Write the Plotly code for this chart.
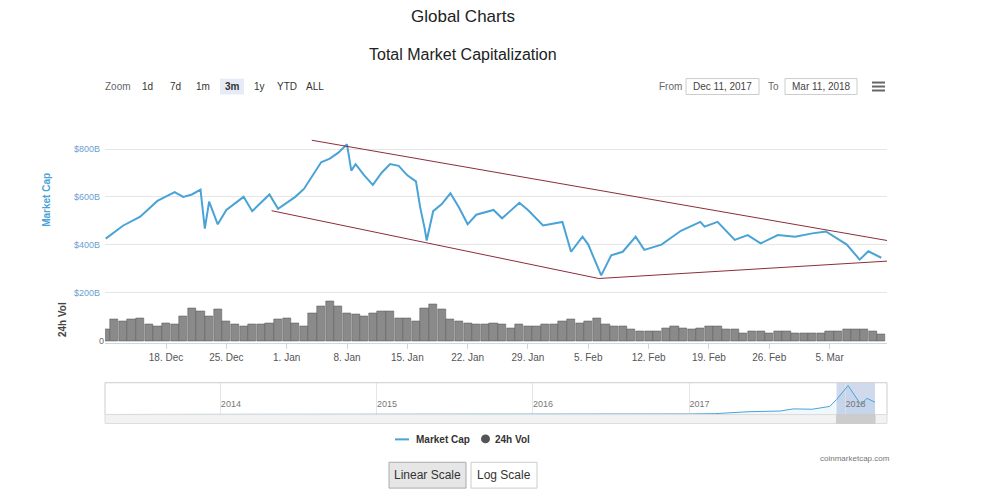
import plotly.graph_objects as go
import pandas as pd

# ---- data ----
cap_dates = ["2017-12-11","2017-12-13","2017-12-15","2017-12-17","2017-12-19","2017-12-20","2017-12-21",
 "2017-12-22","2017-12-22 12:00","2017-12-23","2017-12-24","2017-12-25","2017-12-27","2017-12-28","2017-12-30",
 "2017-12-31","2018-01-02","2018-01-03","2018-01-05","2018-01-06","2018-01-07","2018-01-08","2018-01-08 12:00",
 "2018-01-09","2018-01-10","2018-01-11","2018-01-12","2018-01-13","2018-01-14","2018-01-15","2018-01-16",
 "2018-01-16 12:00","2018-01-17","2018-01-17 06:00","2018-01-18","2018-01-19","2018-01-20","2018-01-21","2018-01-22",
 "2018-01-23","2018-01-25","2018-01-26","2018-01-28","2018-01-29","2018-01-30 18:00","2018-02-02","2018-02-03",
 "2018-02-04 08:00","2018-02-05","2018-02-06 12:00","2018-02-07 16:00","2018-02-09","2018-02-10 12:00",
 "2018-02-11 12:00","2018-02-13 12:00","2018-02-15 18:00","2018-02-18","2018-02-18 12:00","2018-02-20",
 "2018-02-22","2018-02-23 12:00","2018-02-25","2018-02-27","2018-03-01","2018-03-03","2018-03-04 14:00",
 "2018-03-07","2018-03-08 12:00","2018-03-09 12:00","2018-03-11"]
cap_values = [425,479,517,583,620,600,610,630,467,580,485,545,600,540,610,550,600,633,745,760,785,820,710,
 737,690,650,700,737,730,690,665,555,470,417,540,570,615,555,485,525,545,510,575,545,480,495,370,433,400,
 271,355,370,433,378,400,458,495,475,495,420,440,405,440,433,447,455,400,337,372,345]

vol_start = "2017-12-11"
vol_values = [12,22,20,22,23,17,15,18,17,25,33,30,25,32,20,17,15,17,17,18,22,23,18,15,28,35,40,35,28,27,
 25,28,30,30,23,23,20,33,37,32,22,20,18,17,17,18,17,13,17,15,15,17,17,20,22,18,20,23,17,15,15,12,10,10,
 10,13,15,13,12,13,15,15,12,12,8,10,10,8,10,10,8,8,8,8,10,10,12,12,12,10,7]

upper_x = ["2018-01-03 22:00", "2018-03-13 03:00"]
upper_y = [837, 408]
lower_x = ["2017-12-30 06:00", "2018-02-06 05:00", "2018-03-12 17:00"]
lower_y = [542, 258, 333]

nav_dates = ["2013-04-05","2013-10-01","2013-12-01","2014-02-01","2014-06-01","2015-01-15","2015-10-01",
 "2016-06-01","2017-01-01","2017-03-01","2017-05-20","2017-08-01","2017-09-01","2017-10-15","2017-11-25",
 "2017-12-11","2018-01-07","2018-02-06","2018-02-20","2018-03-11"]
nav_values = [1.5,2,12,10,7,4,4,10,17,25,80,100,160,150,230,425,820,280,460,350]

week_ticks = ["2017-12-18","2017-12-25","2018-01-01","2018-01-08","2018-01-15","2018-01-22","2018-01-29",
 "2018-02-05","2018-02-12","2018-02-19","2018-02-26","2018-03-05"]
week_labels = ["18. Dec","25. Dec","1. Jan","8. Jan","15. Jan","22. Jan","29. Jan","5. Feb","12. Feb",
 "19. Feb","26. Feb","5. Mar"]
cap_ticks = [200, 400, 600, 800]
cap_tick_labels = ["$200B", "$400B", "$600B", "$800B"]
zoom_buttons = ["1d", "7d", "1m", "3m", "1y", "YTD", "ALL"]

W, H, OFF = 1000, 499, 8
def px(p):
    return (p - OFF) / W
def py(p):
    return 1 - (p - OFF) / H

vol_dates = [str(d.date()) for d in pd.date_range(vol_start, periods=len(vol_values))]

fig = go.Figure()
fig.add_trace(go.Scatter(x=cap_dates, y=cap_values, mode="lines", line=dict(color="#4aa3d6", width=2),
                         xaxis="x", yaxis="y", hoverinfo="skip"))
fig.add_trace(go.Scatter(x=upper_x, y=upper_y, mode="lines", line=dict(color="#8b2e3a", width=1), xaxis="x", yaxis="y"))
fig.add_trace(go.Scatter(x=lower_x, y=lower_y, mode="lines", line=dict(color="#8b2e3a", width=1), xaxis="x", yaxis="y"))
fig.add_trace(go.Bar(x=vol_dates, y=vol_values, marker=dict(color="#8a8a8a", line=dict(color="#555", width=0.5)),
                     width=86400000*0.95, xaxis="x2", yaxis="y2"))
fig.add_trace(go.Scatter(x=nav_dates, y=nav_values, mode="lines", line=dict(color="#4aa3d6", width=1),
                         fill="tozeroy", fillcolor="rgba(74,163,214,0.08)", xaxis="x3", yaxis="y3"))

xr = ["2017-12-10 22:00", "2018-03-11 16:00"]
dom = [px(105), px(887)]
fig.update_layout(
    width=W, height=H, margin=dict(l=0, r=0, t=0, b=0), showlegend=False,
    plot_bgcolor="white", paper_bgcolor="white", bargap=0,
    font=dict(family="Liberation Sans, Arial", color="#333"),
    xaxis=dict(domain=dom, range=xr, showticklabels=False, showgrid=False, zeroline=False, anchor="y"),
    yaxis=dict(domain=[py(296), py(130)], range=[192, 883], tickvals=cap_ticks, ticktext=cap_tick_labels,
               gridcolor="#e6e6e6", zeroline=False, tickfont=dict(size=9, color="#6a9fcf"), ticklabelstandoff=4),
    xaxis2=dict(domain=dom, range=xr, tickvals=week_ticks, ticktext=week_labels, showgrid=False,
                tickfont=dict(size=10, color="#555"), ticks="outside", ticklen=5, tickcolor="#ccd6eb",
                showline=True, linecolor="#ccd6eb", anchor="y2"),
    yaxis2=dict(domain=[py(345), py(300)], range=[-2, 43], tickvals=[0], ticktext=["0"], showgrid=False,
                zeroline=False, tickfont=dict(size=9, color="#666"), anchor="x2"),
    xaxis3=dict(domain=dom, range=["2013-04-05", "2018-04-08"], anchor="y3",
                tickvals=["2014-01-01","2015-01-01","2016-01-01","2017-01-01","2018-01-01"],
                ticktext=["2014","2015","2016","2017","2018"], ticklabelposition="inside right",
                tickfont=dict(size=9, color="#777"), showgrid=True, gridcolor="#e6e6e6", ticks=""),
    yaxis3=dict(domain=[py(417), py(385)], range=[0, 900], visible=False),
)

shapes = []
ann = []
def prect(x0, x1, y0, y1, **kw):
    d = dict(type="rect", xref="paper", yref="paper", x0=px(x0), x1=px(x1), y0=py(y1), y1=py(y0))
    d.update(kw)
    return d

shapes.append(prect(105, 887, 385, 417, line=dict(color="#ccc", width=1)))
shapes.append(dict(type="rect", xref="x3", yref="paper", x0="2017-12-11", x1="2018-03-11", y0=py(417), y1=py(385),
                   fillcolor="rgba(102,133,194,0.3)", line=dict(width=0), layer="below"))
shapes.append(prect(105, 887, 417, 426, fillcolor="#f2f2f2", line=dict(color="#ddd", width=1)))
shapes.append(dict(type="rect", xref="x3", yref="paper", x0="2017-12-11", x1="2018-03-11", y0=py(426), y1=py(417),
                   fillcolor="#cccccc", line=dict(color="#ccc", width=1)))
for yy in [83, 87, 91]:
    shapes.append(dict(type="line", xref="paper", yref="paper", x0=px(872), x1=px(885), y0=py(yy), y1=py(yy),
                       line=dict(color="#666", width=2)))
for x0, x1 in [(686, 759), (785, 857)]:
    shapes.append(prect(x0, x1, 79, 95, line=dict(color="#ccc", width=1)))
bx = [147, 175, 203, 232, 259, 287, 315]
for b, x in zip(zoom_buttons, bx):
    if b == "3m":
        shapes.append(prect(x - 12, x + 12, 79, 95, fillcolor="#e6ebf5", line=dict(width=0), layer="below"))
    ann.append(dict(text=("<b>%s</b>" % b) if b == "3m" else b, x=px(x), y=py(87), font=dict(size=10, color="#333")))
shapes.append(prect(389, 466, 465, 491, fillcolor="#e6e6e6", line=dict(color="#aaa", width=1), layer="below"))
shapes.append(prect(471, 537, 465, 491, fillcolor="white", line=dict(color="#ccc", width=1), layer="below"))
shapes.append(dict(type="line", xref="paper", yref="paper", x0=px(395), x1=px(409), y0=py(442), y1=py(442),
                   line=dict(color="#4aa3d6", width=2)))
shapes.append(dict(type="circle", xref="paper", yref="paper", x0=px(481), x1=px(490), y0=py(446), y1=py(437),
                   fillcolor="#555", line=dict(width=0)))

ann += [
    dict(text="Global Charts", x=px(463), y=py(17), font=dict(size=17, color="#222")),
    dict(text="Total Market Capitalization", x=px(463), y=py(55), font=dict(size=16, color="#222")),
    dict(text="Zoom", x=px(118), y=py(87), font=dict(size=10, color="#666")),
    dict(text="From", x=px(670), y=py(87), font=dict(size=10, color="#666")),
    dict(text="Dec 11, 2017", x=px(722), y=py(87), font=dict(size=10, color="#444")),
    dict(text="To", x=px(773), y=py(87), font=dict(size=10, color="#666")),
    dict(text="Mar 11, 2018", x=px(821), y=py(87), font=dict(size=10, color="#444")),
    dict(text="<b>Market Cap</b>", x=px(47), y=py(201), textangle=-90, font=dict(size=10, color="#4aa3d6")),
    dict(text="<b>24h Vol</b>", x=px(62), y=py(322), textangle=-90, font=dict(size=10, color="#444")),
    dict(text="<b>Market Cap</b>", x=px(443), y=py(442), font=dict(size=10, color="#333")),
    dict(text="<b>24h Vol</b>", x=px(512), y=py(442), font=dict(size=10, color="#333")),
    dict(text="coinmarketcap.com", x=px(855), y=py(461), font=dict(size=8, color="#777")),
    dict(text="Linear Scale", x=px(427.5), y=py(478), font=dict(size=12, color="#333")),
    dict(text="Log Scale", x=px(504), y=py(478), font=dict(size=12, color="#333")),
]
for a in ann:
    a.setdefault("xref", "paper"); a.setdefault("yref", "paper"); a.setdefault("showarrow", False)
    a.setdefault("xanchor", "center"); a.setdefault("yanchor", "middle")
fig.update_layout(shapes=shapes, annotations=ann)
fig.write_html("out.html")
